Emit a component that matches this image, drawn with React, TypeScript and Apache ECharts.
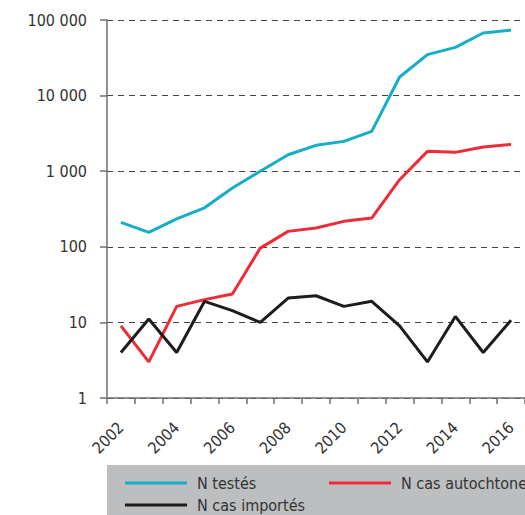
import React, { useEffect, useRef } from "react";
import * as echarts from "echarts";

const years = ["2002","2003","2004","2005","2006","2007","2008","2009","2010","2011","2012","2013","2014","2015","2016"];
const nTestes = [210, 155, 234, 328, 600, 1000, 1650, 2200, 2480, 3360, 17600, 34800, 43400, 67300, 73500];
const nAutochtones = [9, 3, 16.3, 20, 23.8, 96, 160, 177, 217, 240, 772, 1830, 1775, 2090, 2260];
const nImportes = [4, 11.1, 4, 19, 14.3, 10, 21, 22.5, 16.3, 19, 9, 3, 12, 4, 10.7];
const yTicks = [1, 10, 100, 1000, 10000, 100000];

const FONT = "'DejaVu Sans Condensed', 'Liberation Sans', Arial, sans-serif";
const TXT = "#333333";

export default function App() {
  const ref = useRef<HTMLDivElement>(null);
  useEffect(() => {
    if (!ref.current) return;
    const chart = echarts.init(ref.current, null, { renderer: "svg" });
    const fmt = (v: number) => String(v).replace(/\B(?=(\d{3})+(?!\d))/g, " ");
    const legendText = { fontFamily: FONT, fontSize: 16, color: TXT, padding: [0, 0, 0, 5] };
    chart.setOption({
      animation: false,
      textStyle: { fontFamily: FONT },
      graphic: [
        { type: "rect", left: 107, top: 465, shape: { width: 500, height: 60 }, style: { fill: "#bcbec0" }, z: -1 },
      ],
      grid: { left: 107, top: 20, width: 439.5, height: 378 },
      legend: [
        { data: ["N testés"], left: 120, top: 470, icon: "rect", itemWidth: 62, itemHeight: 3, textStyle: legendText },
        { data: ["N cas autochtones"], left: 324, top: 470, icon: "rect", itemWidth: 62, itemHeight: 3, textStyle: legendText },
        { data: ["N cas importés"], left: 120, top: 492, icon: "rect", itemWidth: 62, itemHeight: 3, textStyle: legendText },
      ],
      xAxis: {
        type: "category",
        data: years,
        boundaryGap: true,
        axisLine: { lineStyle: { color: "#6d6e70", width: 1.5 } },
        axisTick: { show: true, length: 6, lineStyle: { color: "#6d6e70", width: 1.5 }, interval: 0 },
        axisLabel: { interval: 1, rotate: 45, margin: 27, fontSize: 16, color: TXT, fontFamily: FONT },
        splitLine: { show: false },
      },
      yAxis: {
        type: "log",
        logBase: 10,
        min: yTicks[0],
        max: yTicks[yTicks.length - 1],
        axisLine: { show: true, lineStyle: { color: "#6d6e70", width: 1.5 } },
        axisTick: { show: true, length: 7, lineStyle: { color: "#6d6e70", width: 1.5 } },
        axisLabel: { formatter: fmt, margin: 20, fontSize: 16, color: TXT, fontFamily: FONT },
        splitLine: { show: true, lineStyle: { color: "#444", type: [6, 5], width: 1.2 } },
        minorTick: { show: false },
      },
      series: [
        { name: "N testés", type: "line", data: nTestes, symbol: "none", lineStyle: { color: "#14aec9", width: 3 }, itemStyle: { color: "#14aec9" } },
        { name: "N cas autochtones", type: "line", data: nAutochtones, symbol: "none", lineStyle: { color: "#ee2b36", width: 3 }, itemStyle: { color: "#ee2b36" } },
        { name: "N cas importés", type: "line", data: nImportes, symbol: "none", lineStyle: { color: "#1e1c1d", width: 3 }, itemStyle: { color: "#1e1c1d" } },
      ],
    });
    return () => chart.dispose();
  }, []);
  return (
    <div style={{ position: "fixed", left: 0, top: 0, width: 525, height: 515, overflow: "hidden", background: "#fff" }}>
      <div ref={ref} style={{ width: 525, height: 515 }} />
    </div>
  );
}
